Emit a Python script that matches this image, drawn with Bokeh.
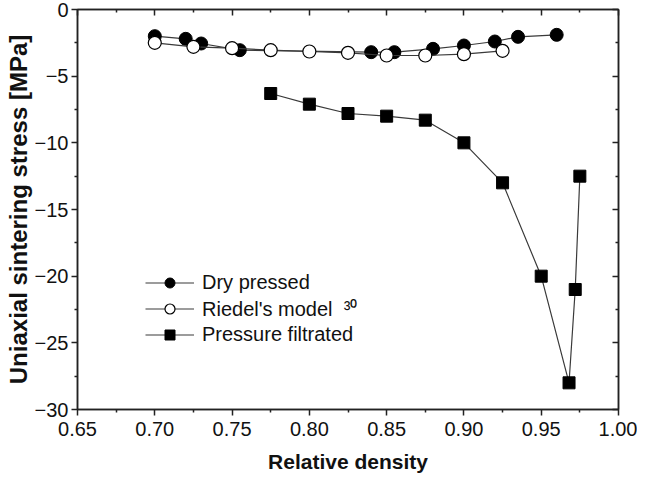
from bokeh.plotting import figure
from bokeh.models import Range1d, FixedTicker, LinearAxis, Legend, LegendItem, NumeralTickFormatter
from bokeh.embed import file_html
from bokeh.resources import INLINE

# Data
dry_x = [0.70, 0.72, 0.73, 0.755, 0.84, 0.855, 0.88, 0.90, 0.92, 0.935, 0.96]
dry_y = [-2.0, -2.2, -2.55, -3.05, -3.2, -3.2, -2.95, -2.7, -2.4, -2.05, -1.9]
riedel_x = [0.70, 0.725, 0.75, 0.775, 0.80, 0.825, 0.85, 0.875, 0.90, 0.925]
riedel_y = [-2.5, -2.8, -2.9, -3.05, -3.15, -3.25, -3.45, -3.45, -3.35, -3.1]
pf_x = [0.775, 0.80, 0.825, 0.85, 0.875, 0.90, 0.925, 0.95, 0.968, 0.972, 0.975]
pf_y = [-6.3, -7.1, -7.8, -8.0, -8.3, -10.0, -13.0, -20.0, -28.0, -21.0, -12.5]

x_ticks = [0.65, 0.70, 0.75, 0.80, 0.85, 0.90, 0.95, 1.00]
x_minor = [0.675, 0.725, 0.775, 0.825, 0.875, 0.925, 0.975]
y_ticks = [-30, -25, -20, -15, -10, -5, 0]
y_minor = [-27.5, -22.5, -17.5, -12.5, -7.5, -2.5]

FONT = "Liberation Sans"
AX = "#222222"
LN = "#3a3a3a"
TXT = "#111111"

p = figure(frame_width=541, frame_height=400,
           x_range=Range1d(0.65, 1.00), y_range=Range1d(-30, 0),
           output_backend="svg", toolbar_location=None,
           min_border_left=77, min_border_right=19, min_border_top=9, min_border_bottom=64,
           background_fill_color="white", border_fill_color="white")
p.grid.visible = False
p.outline_line_color = AX
p.outline_line_width = 1.5

xt = FixedTicker(ticks=x_ticks, minor_ticks=x_minor)
yt = FixedTicker(ticks=y_ticks, minor_ticks=y_minor)

for ax in p.xaxis:
    ax.ticker = xt
    ax.formatter = NumeralTickFormatter(format="0.00")
    ax.axis_label = "Relative density"
    ax.axis_label_text_font_size = "21px"
for ax in p.yaxis:
    ax.ticker = yt
    ax.axis_label = "Uniaxial sintering stress [MPa]"
    ax.axis_label_text_font_size = "24px"

for ax in p.xaxis + p.yaxis:
    ax.axis_line_color = AX
    ax.axis_line_width = 1.5
    ax.major_tick_line_color = AX
    ax.minor_tick_line_color = AX
    ax.major_tick_line_width = 1.5
    ax.minor_tick_line_width = 1.5
    ax.major_tick_out = 6
    ax.major_tick_in = 0
    ax.minor_tick_out = 3
    ax.minor_tick_in = 0
    ax.major_label_text_font = FONT
    ax.major_label_text_font_size = "20px"
    ax.major_label_text_color = TXT
    ax.axis_label_text_font = FONT
    ax.axis_label_text_font_style = "bold"
    ax.axis_label_text_color = TXT

p.xaxis.major_label_standoff = 6
p.xaxis.axis_label_standoff = 11
p.yaxis.major_label_standoff = 3
p.yaxis.axis_label_standoff = 0


def mirror_axis(ticker):
    return LinearAxis(ticker=ticker, major_label_text_font_size="1px",
                      major_label_text_color=None, major_label_standoff=0,
                      major_tick_in=6, major_tick_out=0, minor_tick_in=3, minor_tick_out=0,
                      axis_line_color=AX, axis_line_width=1.5,
                      major_tick_line_color=AX, minor_tick_line_color=AX,
                      major_tick_line_width=1.5, minor_tick_line_width=1.5)


p.add_layout(mirror_axis(xt), "above")
p.add_layout(mirror_axis(yt), "right")

l1 = p.line(dry_x, dry_y, line_color=LN, line_width=1.2)
m1 = p.scatter(dry_x, dry_y, marker="circle", size=13, fill_color="black", line_color="black")
l2 = p.line(riedel_x, riedel_y, line_color=LN, line_width=1.2)
m2 = p.scatter(riedel_x, riedel_y, marker="circle", size=13, fill_color="white", line_color="black", line_width=1.2)
l3 = p.line(pf_x, pf_y, line_color=LN, line_width=1.2)
m3 = p.scatter(pf_x, pf_y, marker="square", size=12, fill_color="black", line_color="black")

legend = Legend(items=[
    LegendItem(label="Dry pressed", renderers=[l1, m1]),
    LegendItem(label="Riedel's model  \u00b3\u2070", renderers=[l2, m2]),
    LegendItem(label="Pressure filtrated", renderers=[l3, m3]),
], location=(68, 62))
legend.background_fill_alpha = 0
legend.border_line_alpha = 0
legend.padding = 0
legend.margin = 0
legend.spacing = 0
legend.glyph_width = 49
legend.glyph_height = 25
legend.label_height = 25
legend.label_standoff = 8
legend.label_text_font = FONT
legend.label_text_font_size = "20px"
legend.label_text_color = TXT
p.add_layout(legend, "center")

open("out.html", "w").write(file_html(p, INLINE))
